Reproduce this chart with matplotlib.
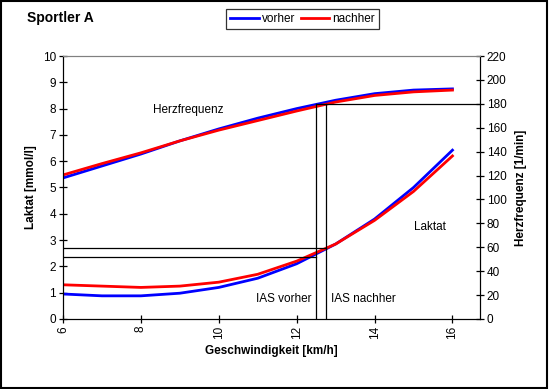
import matplotlib.pyplot as plt
from matplotlib.patches import Rectangle

plt.rcParams["font.family"] = ["Liberation Sans", "DejaVu Sans"]

speed = [6, 7, 8, 9, 10, 11, 12, 13, 14, 15, 16]
lactate_before = [0.95, 0.88, 0.88, 0.98, 1.2, 1.55, 2.1, 2.85, 3.8, 5.0, 6.42]
lactate_after = [1.3, 1.25, 1.2, 1.25, 1.4, 1.7, 2.2, 2.85, 3.75, 4.85, 6.2]
hr_before = [118, 128, 138, 149, 159, 168, 176, 183, 188.5, 191.5, 192.5]
hr_after = [120.5, 130, 139, 149, 158, 166, 174, 181.5, 187, 190, 191.5]

ias_speed = [12.49, 12.75]
ias_lactate = [2.35, 2.69]
ias_hr = 180
xticks = [6, 8, 10, 12, 14, 16]

fig = plt.figure(figsize=(5.49, 3.89), dpi=100)
fig.patch.set_facecolor("white")
fig.patches.append(Rectangle((0.002, 0.003), 0.995, 0.994, transform=fig.transFigure,
                             fill=False, ec="black", lw=1.5))

ax = fig.add_axes([0.1148, 0.18, 0.759, 0.676])
ax2 = ax.twinx()

ax.plot(speed, lactate_before, color="#0000ff", lw=2, label="vorher")
ax.plot(speed, lactate_after, color="#ff0000", lw=2, label="nachher")
ax2.plot(speed, hr_before, color="#0000ff", lw=2)
ax2.plot(speed, hr_after, color="#ff0000", lw=2)

ax.set_xlim(6, 16.7)
ax.set_ylim(0, 10)
ax2.set_ylim(0, 220)

# IAS helper lines
for xs, lac in zip(ias_speed, ias_lactate):
    ax.plot([6, xs], [lac, lac], color="black", lw=0.9)
    ax2.plot([xs, xs], [0, ias_hr], color="black", lw=0.9)
ax2.plot([ias_speed[0], 16.7], [ias_hr, ias_hr], color="black", lw=0.9)

ax.set_xticks(xticks)
ax.set_xticklabels([str(v) for v in xticks], rotation=90)
ax.set_yticks(range(0, 11))
ax2.set_yticks(range(0, 221, 20))

for a in (ax, ax2):
    a.tick_params(direction="inout", length=6, width=0.9, labelsize=8.5, pad=2)
    a.spines["top"].set_color("#808080")
    for s in ("left", "right", "bottom"):
        a.spines[s].set_color("black")

ax.set_xlabel("Geschwindigkeit [km/h]", fontsize=8.5, fontweight="bold", labelpad=4)
ax.set_ylabel("Laktat [mmol/l]", fontsize=8.5, fontweight="bold", labelpad=4)
ax2.set_ylabel("Herzfrequenz [1/min]", fontsize=8.5, fontweight="bold", labelpad=6)

ax.text(8.3, 7.85, "Herzfrequenz", fontsize=8.5)
ax.text(15.0, 3.4, "Laktat", fontsize=8.5)
ax.text(12.38, 0.65, "IAS vorher", fontsize=8.5, ha="right")
ax.text(12.88, 0.65, "IAS nachher", fontsize=8.5, ha="left")

fig.text(0.049, 0.953, "Sportler A", fontsize=10, fontweight="bold", va="center")

leg = ax.legend(loc="center", bbox_to_anchor=(0.551, 0.952), bbox_transform=fig.transFigure,
                ncol=2, fontsize=8.5, frameon=True, fancybox=False, handlelength=2.4,
                handletextpad=0.25, columnspacing=0.5, borderpad=0.35, borderaxespad=0)
leg.get_frame().set_edgecolor("black")
leg.get_frame().set_linewidth(0.9)

fig.savefig("out.png", dpi=100)
